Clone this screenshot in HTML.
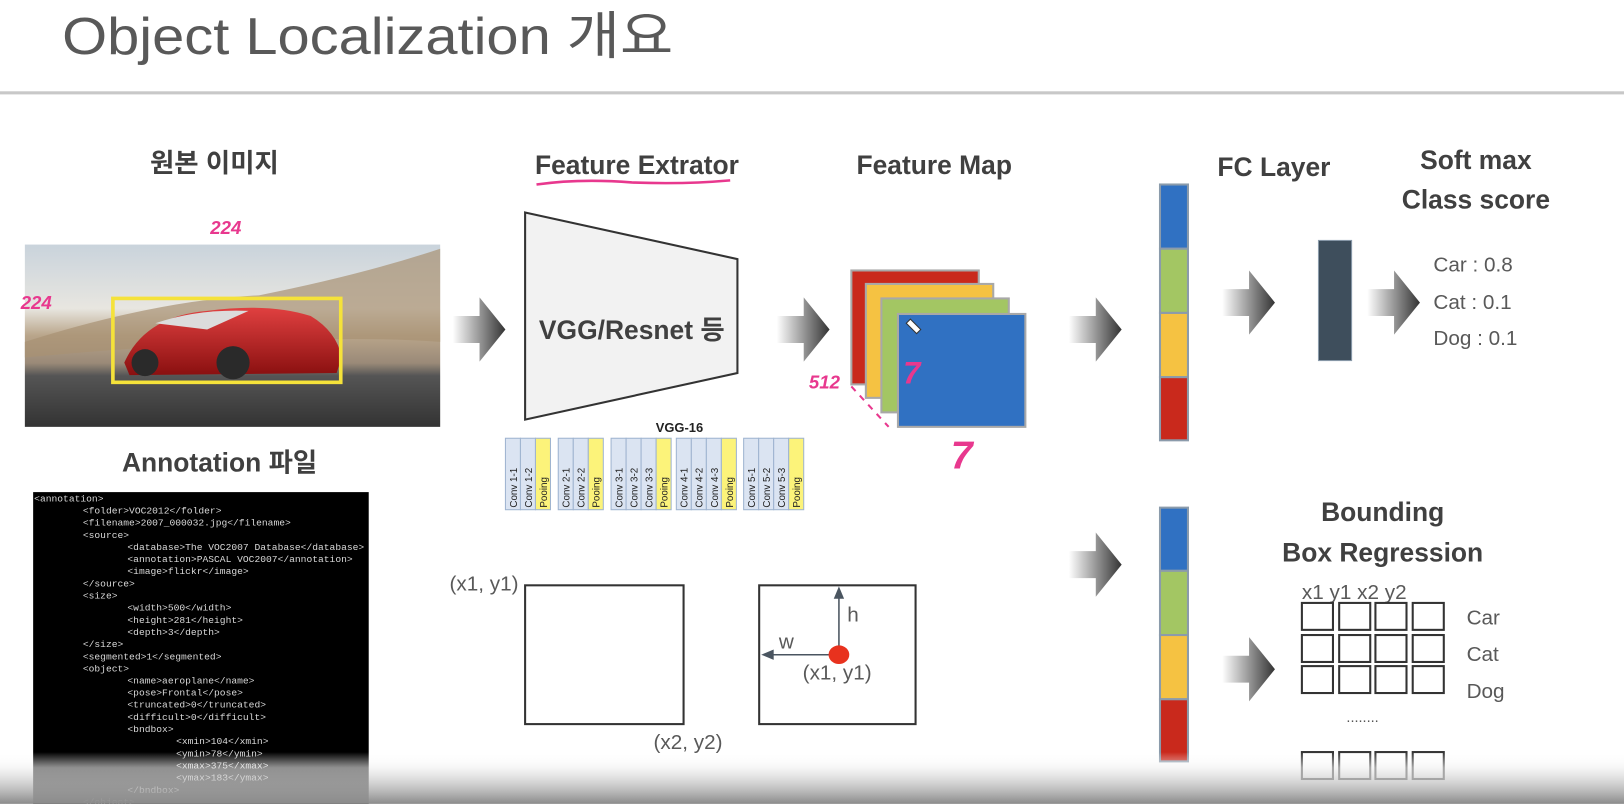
<!DOCTYPE html>
<html><head><meta charset="utf-8"><style>
html,body{margin:0;padding:0;background:#fff;width:1624px;height:804px;overflow:hidden}
svg{display:block}
text{font-family:"Liberation Sans","Noto Sans CJK KR",sans-serif}
.mono text{font-family:"Liberation Mono",monospace;font-size:9.3px;fill:#d8d8d8}
.b{font-weight:bold;fill:#404040;font-size:25.5px}
.g{fill:#595959;font-size:20px}
.pk{fill:#e8388e;font-family:"Liberation Sans",sans-serif;font-style:italic;font-weight:bold}
</style></head><body>
<svg width="1624" height="804" viewBox="0 0 1568 776" xmlns="http://www.w3.org/2000/svg">
<defs>
<linearGradient id="ar" x1="0" x2="1" y1="0" y2="0"><stop offset="0" stop-color="#fff"/><stop offset="0.5" stop-color="#999"/><stop offset="1" stop-color="#333"/></linearGradient>
<linearGradient id="bot" x1="0" x2="0" y1="0" y2="1"><stop offset="0" stop-color="#fff" stop-opacity="0"/><stop offset="0.3" stop-color="#f0f0f0" stop-opacity="0.6"/><stop offset="1" stop-color="#8a8a8a"/></linearGradient>
<linearGradient id="sky" x1="0" x2="0" y1="0" y2="1"><stop offset="0" stop-color="#c9d3dc"/><stop offset="0.35" stop-color="#e8e6e0"/><stop offset="0.5" stop-color="#b9a58a"/><stop offset="0.65" stop-color="#9a8a78"/><stop offset="0.72" stop-color="#555"/><stop offset="1" stop-color="#333"/></linearGradient>
<linearGradient id="carg" x1="0" x2="0" y1="0" y2="1"><stop offset="0" stop-color="#e04040"/><stop offset="1" stop-color="#8a1010"/></linearGradient>
<g id="arrow"><polygon points="0,-13 26,-13 26,-31 51,0 26,31 26,13 0,13" fill="url(#ar)"/></g>
</defs>

<text x="60" y="52" font-size="50" fill="#595959" textLength="590" lengthAdjust="spacingAndGlyphs">Object Localization 개요</text>
<rect x="0" y="88" width="1568" height="3" fill="#c8c8c8"/>

<text x="207" y="166" class="b" text-anchor="middle" font-size="27">원본 이미지</text>
<rect x="24" y="236" width="401" height="176" fill="url(#sky)"/>
<path d="M24,330 Q150,290 250,285 Q350,265 425,240 L425,330 Q300,320 24,345Z" fill="#a89274" opacity="0.7"/>
<path d="M120,350 Q140,305 200,300 Q260,292 300,305 Q325,320 330,345 L325,360 L125,362Z" fill="url(#carg)"/>
<path d="M150,312 Q190,298 240,300 L200,318Z" fill="#dcdcdc"/>
<circle cx="140" cy="350" r="13" fill="#2a2a2a"/><circle cx="225" cy="350" r="16" fill="#2a2a2a"/>
<rect x="109" y="288" width="220" height="81" fill="none" stroke="#f5e23a" stroke-width="3.5"/>
<text x="203" y="226" class="pk" font-size="18">224</text>
<text x="20" y="298" class="pk" font-size="18">224</text>

<text x="212" y="455" class="b" text-anchor="middle" font-size="26.5">Annotation 파일</text>
<rect x="32" y="475" width="324" height="301" fill="#000"/>
<g class="mono">
<text x="33" y="484">&lt;annotation&gt;</text>
<text x="80" y="495.7">&lt;folder&gt;VOC2012&lt;/folder&gt;</text>
<text x="80" y="507.4">&lt;filename&gt;2007_000032.jpg&lt;/filename&gt;</text>
<text x="80" y="519.2">&lt;source&gt;</text>
<text x="123" y="530.9">&lt;database&gt;The VOC2007 Database&lt;/database&gt;</text>
<text x="123" y="542.6">&lt;annotation&gt;PASCAL VOC2007&lt;/annotation&gt;</text>
<text x="123" y="554.3">&lt;image&gt;flickr&lt;/image&gt;</text>
<text x="80" y="566">&lt;/source&gt;</text>
<text x="80" y="577.8">&lt;size&gt;</text>
<text x="123" y="589.5">&lt;width&gt;500&lt;/width&gt;</text>
<text x="123" y="601.2">&lt;height&gt;281&lt;/height&gt;</text>
<text x="123" y="612.9">&lt;depth&gt;3&lt;/depth&gt;</text>
<text x="80" y="624.6">&lt;/size&gt;</text>
<text x="80" y="636.4">&lt;segmented&gt;1&lt;/segmented&gt;</text>
<text x="80" y="648.1">&lt;object&gt;</text>
<text x="123" y="659.8">&lt;name&gt;aeroplane&lt;/name&gt;</text>
<text x="123" y="671.5">&lt;pose&gt;Frontal&lt;/pose&gt;</text>
<text x="123" y="683.2">&lt;truncated&gt;0&lt;/truncated&gt;</text>
<text x="123" y="695">&lt;difficult&gt;0&lt;/difficult&gt;</text>
<text x="123" y="706.7">&lt;bndbox&gt;</text>
<text x="170" y="718.4">&lt;xmin&gt;104&lt;/xmin&gt;</text>
<text x="170" y="730.1">&lt;ymin&gt;78&lt;/ymin&gt;</text>
<text x="170" y="741.8">&lt;xmax&gt;375&lt;/xmax&gt;</text>
<text x="170" y="753.6">&lt;ymax&gt;183&lt;/ymax&gt;</text>
<text x="123" y="765.3">&lt;/bndbox&gt;</text>
<text x="80" y="777">&lt;/object&gt;</text>
</g>

<use href="#arrow" x="437" y="318"/>
<use href="#arrow" x="750" y="318"/>
<use href="#arrow" x="1032" y="318"/>
<use href="#arrow" x="1180" y="292"/>
<use href="#arrow" x="1320" y="292"/>
<use href="#arrow" x="1032" y="545"/>
<use href="#arrow" x="1180" y="646"/>

<text x="615" y="168" class="b" text-anchor="middle">Feature Extrator</text>
<path d="M518,178 Q560,172 610,176 Q660,178 705,174" stroke="#e8388e" stroke-width="2.5" fill="none"/>
<polygon points="507,205 712,250 712,360 507,405" fill="#f2f2f2" stroke="#333" stroke-width="2"/>
<text x="610" y="327" class="b" text-anchor="middle" font-size="25">VGG/Resnet 등</text>

<text x="656" y="417" font-size="12.5" font-weight="bold" fill="#222" text-anchor="middle">VGG-16</text>
<g font-size="9.5" fill="#222">
<g stroke="#9fb4d0" stroke-width="1">
<rect x="488" y="423" width="14.5" height="69" fill="#dbe4f2"/><rect x="502.5" y="423" width="14.5" height="69" fill="#dbe4f2"/><rect x="517" y="423" width="14.5" height="69" fill="#fcf37a"/>
<rect x="539" y="423" width="14.5" height="69" fill="#dbe4f2"/><rect x="553.5" y="423" width="14.5" height="69" fill="#dbe4f2"/><rect x="568" y="423" width="14.5" height="69" fill="#fcf37a"/>
<rect x="590" y="423" width="14.5" height="69" fill="#dbe4f2"/><rect x="604.5" y="423" width="14.5" height="69" fill="#dbe4f2"/><rect x="619" y="423" width="14.5" height="69" fill="#dbe4f2"/><rect x="633.5" y="423" width="14.5" height="69" fill="#fcf37a"/>
<rect x="653" y="423" width="14.5" height="69" fill="#dbe4f2"/><rect x="667.5" y="423" width="14.5" height="69" fill="#dbe4f2"/><rect x="682" y="423" width="14.5" height="69" fill="#dbe4f2"/><rect x="696.5" y="423" width="14.5" height="69" fill="#fcf37a"/>
<rect x="718" y="423" width="14.5" height="69" fill="#dbe4f2"/><rect x="732.5" y="423" width="14.5" height="69" fill="#dbe4f2"/><rect x="747" y="423" width="14.5" height="69" fill="#dbe4f2"/><rect x="761.5" y="423" width="14.5" height="69" fill="#fcf37a"/>
</g>
<g>
<text transform="translate(499,490) rotate(-90)">Conv 1-1</text><text transform="translate(513.5,490) rotate(-90)">Conv 1-2</text><text transform="translate(528,490) rotate(-90)">Pooing</text>
<text transform="translate(550,490) rotate(-90)">Conv 2-1</text><text transform="translate(564.5,490) rotate(-90)">Conv 2-2</text><text transform="translate(579,490) rotate(-90)">Pooing</text>
<text transform="translate(601,490) rotate(-90)">Conv 3-1</text><text transform="translate(615.5,490) rotate(-90)">Conv 3-2</text><text transform="translate(630,490) rotate(-90)">Conv 3-3</text><text transform="translate(644.5,490) rotate(-90)">Pooing</text>
<text transform="translate(664,490) rotate(-90)">Conv 4-1</text><text transform="translate(678.5,490) rotate(-90)">Conv 4-2</text><text transform="translate(693,490) rotate(-90)">Conv 4-3</text><text transform="translate(707.5,490) rotate(-90)">Pooing</text>
<text transform="translate(729,490) rotate(-90)">Conv 5-1</text><text transform="translate(743.5,490) rotate(-90)">Conv 5-2</text><text transform="translate(758,490) rotate(-90)">Conv 5-3</text><text transform="translate(772.5,490) rotate(-90)">Pooing</text>
</g>
</g>

<text x="902" y="168" class="b" text-anchor="middle">Feature Map</text>
<g stroke="#a8a8a8" stroke-width="2">
<rect x="822" y="261" width="123" height="110" fill="#c9291c"/>
<rect x="836" y="274" width="123" height="110" fill="#f5c242"/>
<rect x="851" y="288" width="123" height="110" fill="#a3c663"/>
<rect x="867" y="303" width="123" height="109" fill="#3071c2"/>
</g>
<path d="M875,312 l10,10 l4,-4 l-10,-10z" fill="#fff" stroke="#333" stroke-width="1"/>
<text x="872" y="370" class="pk" font-size="30">7</text>
<text x="781" y="375" class="pk" font-size="18">512</text>
<path d="M822,373 L858,412" stroke="#e8388e" stroke-width="2" stroke-dasharray="6,6"/>
<text x="918" y="452" class="pk" font-size="38">7</text>

<text x="1230" y="170" class="b" text-anchor="middle">FC Layer</text>
<g stroke="#8b9bab" stroke-width="2">
<rect x="1120" y="178" width="27" height="62" fill="#3071c2"/><rect x="1120" y="240" width="27" height="62" fill="#a3c663"/><rect x="1120" y="302" width="27" height="62" fill="#f5c242"/><rect x="1120" y="364" width="27" height="61" fill="#c9291c"/>
<rect x="1120" y="490" width="27" height="61" fill="#3071c2"/><rect x="1120" y="551" width="27" height="62" fill="#a3c663"/><rect x="1120" y="613" width="27" height="62" fill="#f5c242"/><rect x="1120" y="675" width="27" height="60" fill="#c9291c"/>
</g>
<rect x="1273" y="232" width="32" height="116" fill="#3e4e5c" stroke="#8b9bab" stroke-width="1"/>

<text x="1425" y="163" class="b" text-anchor="middle">Soft max</text>
<text x="1425" y="201" class="b" text-anchor="middle">Class score</text>
<text x="1384" y="262" class="g">Car : 0.8</text>
<text x="1384" y="298" class="g">Cat : 0.1</text>
<text x="1384" y="333" class="g">Dog : 0.1</text>

<text x="1335" y="503" class="b" text-anchor="middle">Bounding</text>
<text x="1335" y="542" class="b" text-anchor="middle">Box Regression</text>
<text x="1257" y="578" class="g" font-size="22">x1 y1 x2 y2</text>
<g fill="none" stroke="#333" stroke-width="2">
<rect x="1257" y="582" width="30" height="26"/><rect x="1293" y="582" width="30" height="26"/><rect x="1328" y="582" width="30" height="26"/><rect x="1364" y="582" width="30" height="26"/>
<rect x="1257" y="613" width="30" height="26"/><rect x="1293" y="613" width="30" height="26"/><rect x="1328" y="613" width="30" height="26"/><rect x="1364" y="613" width="30" height="26"/>
<rect x="1257" y="643" width="30" height="26"/><rect x="1293" y="643" width="30" height="26"/><rect x="1328" y="643" width="30" height="26"/><rect x="1364" y="643" width="30" height="26"/>
<rect x="1257" y="726" width="30" height="26"/><rect x="1293" y="726" width="30" height="26"/><rect x="1328" y="726" width="30" height="26"/><rect x="1364" y="726" width="30" height="26"/>
</g>
<text x="1416" y="603" class="g">Car</text>
<text x="1416" y="638" class="g">Cat</text>
<text x="1416" y="674" class="g">Dog</text>
<text x="1300" y="697" fill="#555" font-size="14">........</text>

<rect x="507" y="565" width="153" height="134" fill="none" stroke="#333" stroke-width="2"/>
<text x="434" y="570" class="g" font-size="18">(x1, y1)</text>
<text x="631" y="723" class="g" font-size="18">(x2, y2)</text>
<rect x="733" y="565" width="151" height="134" fill="none" stroke="#333" stroke-width="2"/>
<line x1="810" y1="632" x2="810" y2="575" stroke="#4a5560" stroke-width="1.5"/>
<polygon points="810,566 805,578 815,578" fill="#4a5560"/>
<line x1="810" y1="632" x2="744" y2="632" stroke="#4a5560" stroke-width="1.5"/>
<polygon points="735,632 747,627 747,637" fill="#4a5560"/>
<ellipse cx="810" cy="632" rx="10" ry="9" fill="#e8321e"/>
<text x="818" y="600" class="g" font-size="18">h</text>
<text x="752" y="626" class="g" font-size="18">w</text>
<text x="775" y="656" class="g" font-size="18">(x1, y1)</text>

<rect x="0" y="726" width="1568" height="50" fill="url(#bot)"/>
</svg>
</body></html>
